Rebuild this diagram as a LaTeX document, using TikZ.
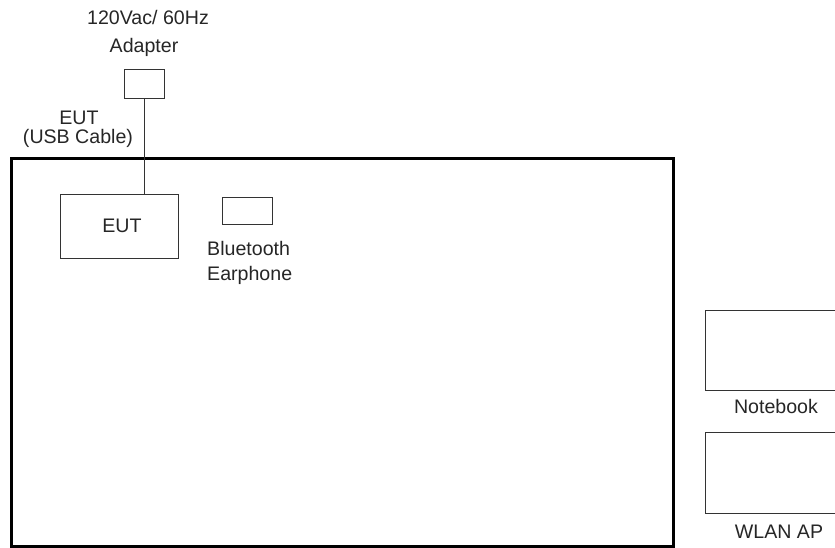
\documentclass[tikz,border=0pt]{standalone}
\usepackage{fontspec}
\setmainfont{Liberation Sans}
\begin{document}
\begin{tikzpicture}[x=1pt,y=-1pt,
  lbl/.style={inner sep=0pt, text=black!85, font=\fontsize{19.6}{24}\selectfont},
  dev/.style={draw=black!80, line width=1.4pt, inner sep=0pt, anchor=north west},
  room/.style={draw=black, line width=3pt, inner sep=0pt, anchor=north west},
  cable/.style={draw=black!80, line width=1.4pt}]
\useasboundingbox (0,0) rectangle (835,548);
\clip (0,0) rectangle (835,548);
% chamber
\node[room, minimum width=662pt, minimum height=388pt] (room) at (10,157) {};
% devices
\node[dev, minimum width=40pt, minimum height=29pt] (adapter) at (124,69) {};
\node[dev, minimum width=118pt, minimum height=64pt] (eut) at (60,194) {};
\node[dev, minimum width=50pt, minimum height=27pt] (bt) at (222,197) {};
\node[dev, minimum width=150pt, minimum height=80pt] (nb) at (705,310) {};
\node[dev, minimum width=150pt, minimum height=81pt] (ap) at (705,432) {};
% cable
\draw[cable] (adapter.south) -- (adapter.south |- eut.north);
% labels
\node[lbl, anchor=base] (ac1) at (148,25) {120Vac/ 60Hz};
\node[lbl, anchor=base] (ac2) at (144,53) {Adapter};
\node[lbl, anchor=base] (usb1) at (79,125) {EUT};
\node[lbl, anchor=base] (usb2) at (78,144) {(USB Cable)};
\node[lbl, anchor=base] (eutl) at (122,233) {EUT};
\node[lbl, anchor=base west] (bt1) at (207,255) {Bluetooth};
\node[lbl, anchor=base west] (bt2) at (207,280) {Earphone};
\node[lbl, anchor=base] (nbl) at (776,413) {Notebook};
\node[lbl, anchor=base] (apl) at (779,538) {WLAN AP};
\end{tikzpicture}
\end{document}
